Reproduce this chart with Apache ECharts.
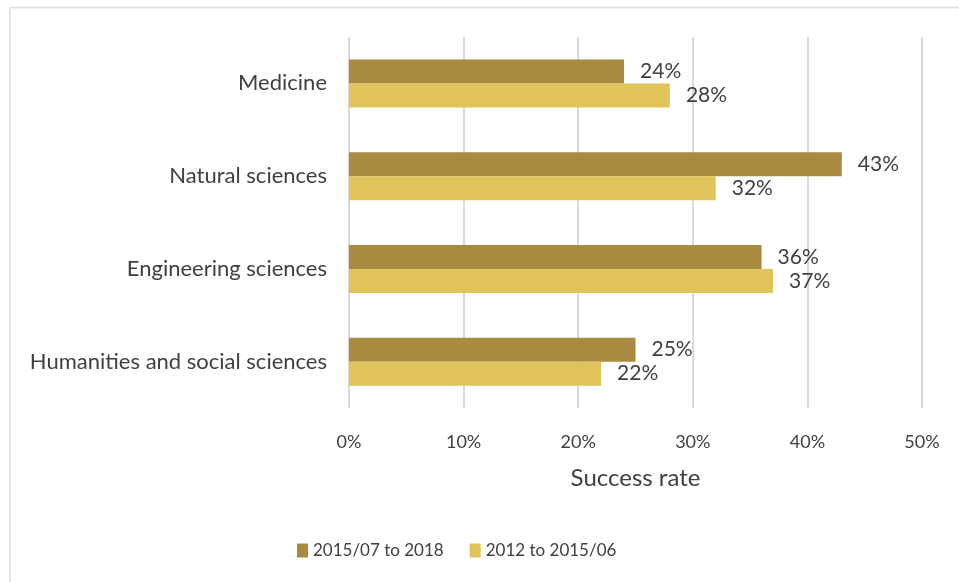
<!DOCTYPE html>
<html>
<head>
<meta charset="utf-8">
<script src="https://cdn.jsdelivr.net/npm/echarts@6/dist/echarts.min.js"></script>
<style>
  html, body { margin: 0; padding: 0; background: #ffffff; }
  #chart { width: 959px; height: 582px; }
</style>
</head>
<body>
<div id="chart"></div>
<script>
// Fields of study, listed top to bottom
const categories = ['Medicine', 'Natural sciences', 'Engineering sciences', 'Humanities and social sciences'];
// Success rate (%) per period
const recentPeriod = [24, 43, 36, 25];   // 2015/07 to 2018
const earlierPeriod = [28, 32, 37, 22];  // 2012 to 2015/06
const seriesNames = ['2015/07 to 2018', '2012 to 2015/06'];
const xTicks = { min: 0, max: 50, interval: 10 };

const FONT = 'Lato, "Open Sans", sans-serif';
const TEXT = '#404040';

const chart = echarts.init(document.getElementById('chart'), null, { renderer: 'canvas' });

const barLabel = {
  show: true,
  position: 'right',
  distance: 16,
  color: TEXT,
  fontFamily: FONT,
  fontSize: 21,
  formatter: p => p.value + '%'
};

chart.setOption({
  backgroundColor: '#ffffff',
  animation: false,
  graphic: [{
    type: 'rect',
    silent: true,
    shape: { x: 10, y: 7.5, width: 1000, height: 1000 },
    style: { fill: 'none', stroke: '#e4e4e4', lineWidth: 2 }
  }],
  grid: { left: 349, right: 37, top: 37, bottom: 174, containLabel: false },
  legend: {
    top: 537,
    left: 292,
    itemWidth: 11,
    itemHeight: 14,
    itemGap: 26,
    icon: 'rect',
    textStyle: { color: TEXT, fontFamily: FONT, fontSize: 17 },
    data: seriesNames
  },
  xAxis: {
    type: 'value',
    min: xTicks.min,
    max: xTicks.max,
    interval: xTicks.interval,
    name: 'Success rate',
    nameLocation: 'middle',
    nameGap: 58,
    nameTextStyle: { color: TEXT, fontFamily: FONT, fontSize: 24 },
    axisLine: { show: false },
    axisTick: { show: false },
    axisLabel: { color: TEXT, fontFamily: FONT, fontSize: 18, margin: 25, formatter: v => v + '%' },
    splitLine: { show: true, lineStyle: { color: '#d9d9d9', width: 2 } }
  },
  yAxis: {
    type: 'category',
    inverse: true,
    data: categories,
    axisLine: { show: false },
    axisTick: { show: false },
    axisLabel: { color: TEXT, fontFamily: FONT, fontSize: 22, margin: 22 }
  },
  series: [
    {
      name: seriesNames[0],
      type: 'bar',
      data: recentPeriod,
      barWidth: 24,
      barGap: '0%',
      itemStyle: { color: '#a98a40' },
      label: barLabel
    },
    {
      name: seriesNames[1],
      type: 'bar',
      data: earlierPeriod,
      barWidth: 24,
      barGap: '0%',
      itemStyle: { color: '#e0c35b' },
      label: barLabel
    }
  ]
});
</script>
</body>
</html>
